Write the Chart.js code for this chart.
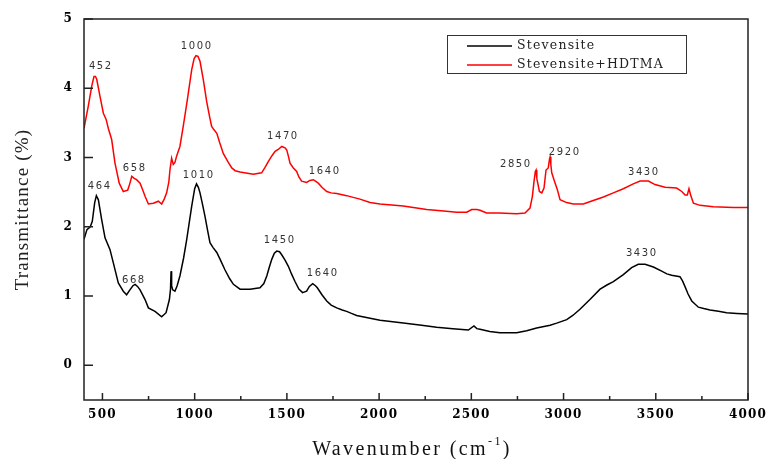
<!DOCTYPE html>
<html>
<head>
<meta charset="utf-8">
<script src="https://cdn.jsdelivr.net/npm/chart.js@4.4.1/dist/chart.umd.min.js"></script>
<style>
html,body{margin:0;padding:0;background:#fff;}
#wrap{width:766px;height:459px;position:relative;}
</style>
</head>
<body>
<div id="wrap"><canvas id="c"></canvas></div>
<script>
// ---- data ----
const seriesNames = ['Stevensite', 'Stevensite+HDTMA'];

const stevX = [400,416,434,445,458,467,478,496,514,541,559,586,613,631,649,665,677,690,704,731,749,785,821,845,863,869,872,875,881,893,905,920,940,957,970,984,1000,1010,1020,1029,1042,1056,1070,1083,1100,1120,1140,1164,1190,1210,1246,1300,1354,1375,1391,1405,1418,1432,1445,1460,1471,1490,1508,1525,1544,1565,1585,1607,1622,1640,1655,1665,1690,1716,1740,1770,1800,1824,1850,1878,1951,2005,2131,2230,2312,2400,2484,2514,2530,2547,2600,2655,2746,2800,2854,2927,2963,3017,3050,3089,3143,3198,3235,3270,3324,3369,3405,3442,3487,3532,3560,3586,3631,3645,3658,3675,3695,3731,3760,3794,3840,3884,3940,4000];
const stevY = [1.82,1.96,2.00,2.08,2.35,2.45,2.39,2.10,1.84,1.67,1.48,1.19,1.07,1.02,1.09,1.15,1.17,1.14,1.09,0.95,0.83,0.78,0.70,0.76,0.95,1.10,1.36,1.15,1.09,1.07,1.15,1.29,1.55,1.82,2.05,2.30,2.55,2.62,2.57,2.49,2.33,2.15,1.95,1.77,1.70,1.63,1.52,1.38,1.25,1.17,1.10,1.10,1.12,1.18,1.29,1.42,1.53,1.62,1.65,1.64,1.60,1.52,1.43,1.32,1.21,1.10,1.05,1.07,1.14,1.18,1.15,1.12,1.02,0.93,0.87,0.83,0.80,0.78,0.75,0.72,0.68,0.65,0.61,0.58,0.55,0.53,0.51,0.57,0.53,0.52,0.49,0.47,0.47,0.50,0.54,0.58,0.61,0.66,0.72,0.81,0.95,1.10,1.16,1.21,1.31,1.41,1.46,1.46,1.42,1.36,1.32,1.30,1.28,1.22,1.14,1.03,0.93,0.84,0.82,0.80,0.78,0.76,0.75,0.74];

const hdtmaX = [400,423,442,454,462,469,487,505,520,532,550,568,591,613,637,648,659,672,685,704,720,731,749,776,803,821,835,848,860,866,875,884,893,902,920,938,960,972,984,997,1007,1018,1029,1047,1065,1080,1092,1105,1120,1135,1155,1180,1201,1220,1246,1318,1363,1380,1399,1420,1436,1455,1472,1490,1499,1508,1517,1535,1553,1565,1580,1607,1625,1643,1655,1670,1690,1716,1740,1770,1824,1896,1951,2005,2131,2258,2350,2420,2475,2502,2530,2547,2583,2650,2746,2791,2818,2831,2840,2847,2851,2855,2858,2869,2882,2894,2905,2917,2924,2927,2931,2936,2948,2966,2981,3017,3053,3107,3161,3216,3270,3324,3378,3415,3460,3496,3550,3613,3641,3659,3671,3680,3689,3704,3740,3812,3921,4000];
const hdtmaY = [3.42,3.74,4.03,4.17,4.17,4.13,3.88,3.64,3.55,3.42,3.26,2.92,2.63,2.51,2.53,2.62,2.73,2.70,2.68,2.63,2.52,2.44,2.33,2.34,2.37,2.33,2.40,2.49,2.65,2.82,2.99,2.90,2.93,3.02,3.16,3.45,3.83,4.05,4.27,4.43,4.47,4.46,4.39,4.12,3.81,3.60,3.45,3.40,3.35,3.22,3.06,2.94,2.85,2.81,2.79,2.76,2.78,2.85,2.94,3.03,3.09,3.12,3.16,3.14,3.11,3.02,2.92,2.85,2.80,2.72,2.66,2.64,2.67,2.68,2.66,2.63,2.57,2.51,2.49,2.48,2.45,2.40,2.35,2.33,2.30,2.25,2.23,2.21,2.21,2.25,2.25,2.24,2.20,2.20,2.19,2.20,2.27,2.44,2.66,2.80,2.82,2.70,2.66,2.51,2.49,2.56,2.82,2.85,2.98,3.01,2.90,2.78,2.68,2.54,2.39,2.35,2.33,2.33,2.38,2.43,2.49,2.55,2.62,2.66,2.66,2.61,2.57,2.56,2.51,2.46,2.46,2.55,2.46,2.34,2.31,2.29,2.28,2.28];

const peakText = ['452','1000','658','1470','1640','2850','2920','3430','464','1010','668','1450','1640','3430'];
const peakX    = [487,1007,671,1474,1701,2737,3002,3431,481,1018,666,1457,1690,3420];
const peakY    = [4.31,4.61,2.85,3.30,2.80,2.90,3.08,2.78,2.59,2.74,1.22,1.80,1.33,1.61];

const xTicks = [500,1000,1500,2000,2500,3000,3500,4000];
const xMinorTicks = [750,1250,1750,2250,2750,3250,3750];
const yTicks = [0,1,2,3,4,5];

const xTitleMain = 'Wavenumber (cm';
const xTitleSup = '-1';
const xTitleEnd = ')';
const yTitle = 'Transmittance (%)';

// ---- helpers ----
const toPts = (xs, ys) => xs.map((x, i) => ({x: x, y: ys[i]}));

const framePlugin = {
  id: 'frame',
  beforeDraw(chart) {
    chart.ctx.letterSpacing = '1.2px';
  },
  afterDraw(chart) {
    const ctx = chart.ctx, a = chart.chartArea;
    const xs = chart.scales.x, ys = chart.scales.y;
    ctx.save();
    ctx.strokeStyle = '#222';
    ctx.lineWidth = 1.5;
    ctx.strokeRect(a.left, a.top, a.right - a.left, a.bottom - a.top);
    ctx.beginPath();
    xTicks.forEach(v => { const p = xs.getPixelForValue(v); ctx.moveTo(p, a.bottom); ctx.lineTo(p, a.bottom - 7); });
    xMinorTicks.forEach(v => { const p = xs.getPixelForValue(v); ctx.moveTo(p, a.bottom); ctx.lineTo(p, a.bottom - 4); });
    yTicks.forEach(v => { const p = ys.getPixelForValue(v); ctx.moveTo(a.left, p); ctx.lineTo(a.left + 9, p); });
    ctx.stroke();

    // x axis title with superscript
    ctx.fillStyle = '#111';
    ctx.textBaseline = 'alphabetic';
    ctx.textAlign = 'left';
    const mainFont = '20px "Liberation Serif"', supFont = '12px "Liberation Serif"';
    const sp = 2.4;
    ctx.letterSpacing = sp + 'px';
    ctx.font = mainFont;
    const w1 = ctx.measureText(xTitleMain).width;
    const w3 = ctx.measureText(xTitleEnd).width;
    ctx.font = supFont;
    const w2 = ctx.measureText(xTitleSup).width;
    const total = w1 + w2 + w3;
    let tx = (a.left + a.right) / 2 - 4 - total / 2;
    const base = 455;
    ctx.font = mainFont; ctx.fillText(xTitleMain, tx, base); tx += w1;
    ctx.font = supFont; ctx.fillText(xTitleSup, tx, base - 10); tx += w2;
    ctx.font = mainFont; ctx.fillText(xTitleEnd, tx, base);

    // peak labels
    ctx.font = '10px "DejaVu Sans"';
    ctx.fillStyle = '#333';
    ctx.textAlign = 'center';
    ctx.textBaseline = 'middle';
    const ls = 1.6;
    ctx.letterSpacing = ls + 'px';
    peakText.forEach((t, i) => {
      ctx.fillText(t, xs.getPixelForValue(peakX[i]) + ls / 2, ys.getPixelForValue(peakY[i]));
    });

    // legend box
    ctx.letterSpacing = '1.2px';
    ctx.strokeStyle = '#333';
    ctx.lineWidth = 1;
    ctx.strokeRect(447.5, 35.5, 239, 38);
    ctx.font = '12.5px "DejaVu Serif"';
    ctx.textAlign = 'left';
    ctx.fillStyle = '#222';
    chart.data.datasets.forEach((ds, i) => {
      const yy = 46 + i * 19;
      ctx.strokeStyle = ds.borderColor;
      ctx.lineWidth = 1.5;
      ctx.beginPath(); ctx.moveTo(467, yy); ctx.lineTo(512, yy); ctx.stroke();
      ctx.fillText(ds.label, 517, yy);
    });
    ctx.restore();
    ctx.letterSpacing = '0px';
  }
};

new Chart(document.getElementById('c'), {
  type: 'line',
  data: {
    datasets: [
      { label: seriesNames[0], data: toPts(stevX, stevY), borderColor: '#000000', borderWidth: 1.5, pointRadius: 0, tension: 0, fill: false },
      { label: seriesNames[1], data: toPts(hdtmaX, hdtmaY), borderColor: '#ff0000', borderWidth: 1.5, pointRadius: 0, tension: 0, fill: false }
    ]
  },
  options: {
    responsive: true,
    maintainAspectRatio: false,
    animation: false,
    layout: { padding: { top: 19, right: 18, left: 0, bottom: 0 } },
    plugins: { legend: { display: false }, tooltip: { enabled: false } },
    scales: {
      x: {
        type: 'linear', min: 400, max: 4000,
        afterBuildTicks: s => { s.ticks = xTicks.map(v => ({value: v})); },
        afterFit: s => { s.height = 59; },
        grid: { display: false, drawTicks: true, tickLength: 8 },
        border: { display: false },
        ticks: { color: '#000', padding: 0, callback: v => String(v), font: { family: '"DejaVu Serif"', size: 12, weight: 'bold' }, maxRotation: 0, autoSkip: false },
        title: { display: false }
      },
      y: {
        type: 'linear', min: -0.5, max: 5,
        afterBuildTicks: s => { s.ticks = yTicks.map(v => ({value: v})); },
        afterFit: s => { s.width = 84; },
        grid: { display: false, drawTicks: true, tickLength: 11 },
        border: { display: false },
        ticks: { color: '#000', padding: 0, callback: v => String(v), font: { family: '"DejaVu Serif"', size: 12, weight: 'bold' } },
        title: { display: true, text: yTitle, color: '#222', font: { family: '"Liberation Serif"', size: 19 }, padding: { top: 12, bottom: 0 } }
      }
    }
  },
  plugins: [framePlugin]
});
</script>
</body>
</html>
